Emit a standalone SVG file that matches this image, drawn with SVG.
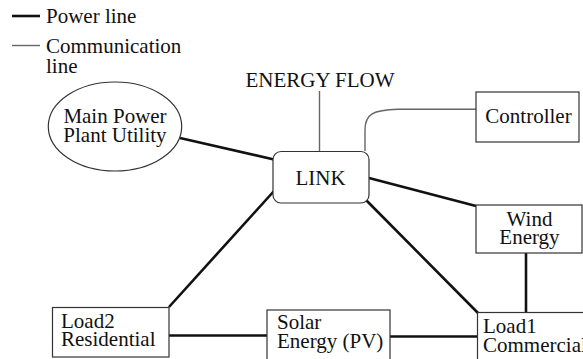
<svg xmlns="http://www.w3.org/2000/svg" width="583" height="359" viewBox="0 0 583 359">
<style>
text{font-family:"Liberation Serif","Times New Roman",serif;font-size:21px;fill:#111}
.box{fill:#fff;stroke:#333;stroke-width:1.2}
.pw{stroke:#111;stroke-width:2.6;fill:none}
.cm{stroke:#666;stroke-width:1.4;fill:none}
.c{text-anchor:middle}
</style>
<rect width="583" height="359" fill="#fff"/>
<g id="legend">
<line class="pw" x1="12" y1="16" x2="40" y2="16"/>
<text x="46" y="23">Power line</text>
<line class="cm" x1="12" y1="45.5" x2="40" y2="45.5"/>
<text x="46" y="53">Communication</text>
<text x="46" y="73">line</text>
</g>
<g id="connectors">
<line class="pw" x1="180" y1="138" x2="274" y2="159.5"/>
<line class="pw" x1="274" y1="191" x2="169" y2="307"/>
<line class="pw" x1="169" y1="335.5" x2="267" y2="335.5"/>
<line class="pw" x1="390" y1="336.5" x2="477" y2="336.5"/>
<line class="pw" x1="366" y1="200" x2="478" y2="313"/>
<line class="pw" x1="369" y1="178" x2="476" y2="206"/>
<line class="pw" x1="526" y1="253" x2="526" y2="313"/>
<line class="cm" x1="319.5" y1="91" x2="319.5" y2="151"/>
<path class="cm" d="M365,151 L365,130 C365,114 373,110 398,109.3 L476,109.3"/>
</g>
<g id="main">
<ellipse class="box" cx="115" cy="126.5" rx="66.7" ry="44.5"/>
<text class="c" x="115" y="122.5">Main Power</text>
<text class="c" x="115" y="141.5">Plant Utility</text>
</g>
<g id="energyflow">
<text class="c" x="320" y="87">ENERGY FLOW</text>
</g>
<g id="link">
<rect class="box" x="273" y="151.5" width="96" height="51.5" rx="8"/>
<text class="c" x="320.5" y="185">LINK</text>
</g>
<g id="controller">
<rect class="box" x="476" y="92" width="103" height="50"/>
<text class="c" x="528.5" y="123">Controller</text>
</g>
<g id="wind">
<rect class="box" x="476" y="205" width="106" height="48"/>
<text class="c" x="529.5" y="225.5">Wind</text>
<text class="c" x="529.5" y="243.5">Energy</text>
</g>
<g id="load2">
<rect class="box" x="52.5" y="307.5" width="116.5" height="49.5"/>
<text x="61" y="327.5">Load2</text>
<text x="61" y="346">Residential</text>
</g>
<g id="solar">
<rect class="box" x="267" y="310" width="123" height="60"/>
<text x="277" y="328.5">Solar</text>
<text x="277" y="348">Energy (PV)</text>
</g>
<g id="load1">
<rect class="box" x="477.5" y="312.5" width="120" height="60"/>
<text x="483" y="333">Load1</text>
<text x="483" y="352">Commercial</text>
</g>
</svg>
